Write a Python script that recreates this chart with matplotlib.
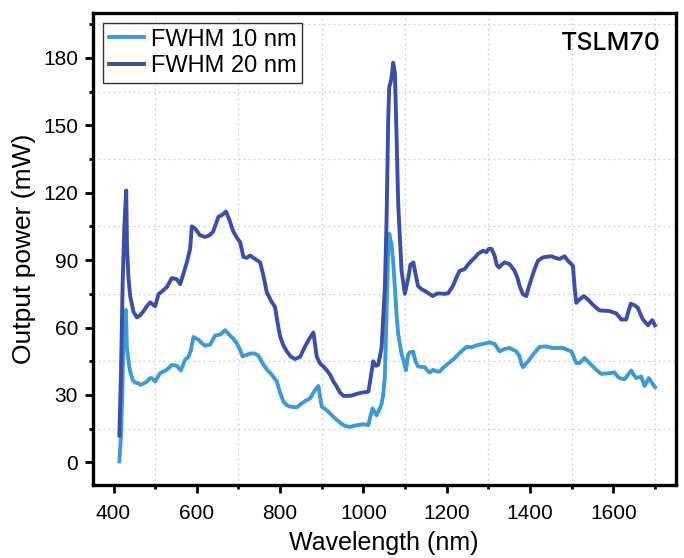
import matplotlib
matplotlib.use("Agg")
import matplotlib.pyplot as plt
from matplotlib.ticker import FixedLocator

wl20 = [414, 418, 422, 426, 430.5, 432.5, 436, 440, 448, 456, 464, 472, 480, 488, 496, 500, 508, 516, 528, 540,
        552, 560, 568, 576, 584, 588, 596, 608, 620, 630, 639, 652, 660, 670, 678, 687, 696, 704, 712, 720,
        728, 740, 752, 760, 768, 778, 788, 794, 800, 808, 816, 826, 836, 848, 860, 870, 880, 888, 896, 904,
        912, 920, 928, 936, 944, 952, 960, 968, 976, 984, 995, 1005, 1012, 1016, 1023.5, 1030, 1035.5, 1043.6,
        1051.5, 1055.6, 1059.5, 1062, 1065, 1068, 1071.5, 1075.6, 1079.6, 1083.5, 1091.6, 1099.5, 1107.5,
        1113, 1120, 1125, 1131, 1140, 1147.5, 1158, 1167, 1175, 1183, 1193, 1203, 1215, 1225, 1231, 1243,
        1251, 1259.5, 1267, 1275, 1287, 1295, 1301, 1307.5, 1315, 1320, 1325.6, 1332, 1339, 1351, 1363, 1370,
        1375, 1383, 1391, 1397, 1403, 1411, 1419, 1431, 1441, 1451, 1461, 1471, 1483, 1491, 1503, 1507, 1511,
        1519, 1529, 1539, 1549, 1559, 1567, 1579, 1591, 1607, 1613, 1619, 1631, 1636, 1642, 1650, 1659, 1665,
        1671, 1683, 1693.5, 1700]
p20 = [12, 40, 80, 105, 121, 95, 82, 74, 67, 64.5, 65.5, 67.3, 69.5, 71.2, 70, 69.5, 74.8, 76, 78, 82,
       81.5, 79.3, 84, 89, 95, 105, 104, 101, 100.3, 101, 102.6, 109.3, 110, 111.6, 108, 103, 100, 98, 91.4, 91,
       92, 90.5, 89, 83, 75.7, 72, 69, 62, 56, 52, 49.4, 47, 46, 47, 51.6, 55, 57.8, 47, 44, 42.7,
       41, 39, 36, 33.7, 31, 29.6, 29.6, 29.6, 30, 30.5, 31, 31.3, 31.5, 36, 45, 43, 43.4, 51,
       77.8, 107.6, 152, 167, 168.8, 172, 177.8, 173.3, 145, 115, 85.2, 75, 82,
       88, 89, 84, 78.5, 77, 76.3, 75, 74, 75, 75.2, 75, 75.2, 78.5, 83, 85.2, 86,
       88, 89.7, 91, 92.7, 94.2, 93.5, 95, 95, 92, 88, 86.7, 88, 89, 88.2, 85.2, 82,
       78.5, 74.8, 74, 78, 81.5, 86, 89.7, 91.2, 91.5, 91.7, 91, 90.5, 91.7, 89.7, 87.5, 78, 71,
       72.5, 74, 72.5, 70.5, 68.8, 67.6, 67.5, 67.3, 66.3, 65, 63.6, 63.6, 67, 70.6, 70, 68.8, 66,
       63.6, 61, 63.3, 61]

wl10 = [414, 418, 421, 424, 427, 429.7, 432, 436, 440, 446, 452, 460, 464, 472, 480, 488, 492, 500, 506, 512,
        520, 528, 540, 552, 561.6, 572, 580, 586, 592, 604, 612, 620, 632, 644, 656, 668, 680, 688, 696, 704,
        710, 728, 738, 748, 760, 770, 780, 792, 800, 808, 816, 824, 840, 852, 862, 872, 884, 892, 896, 900,
        908, 916, 924, 932, 942, 951.6, 960, 968, 978, 987.5, 999.5, 1006, 1012, 1016, 1022, 1031.6, 1037,
        1043.6, 1047.5, 1051.5, 1054, 1057, 1059.5, 1062, 1065, 1067.6, 1071.5, 1075.6, 1079.5, 1083.5,
        1091.6, 1099.5, 1102, 1107.5, 1111.5, 1119.5, 1125, 1131, 1140, 1147.5, 1153, 1159.5, 1167, 1175,
        1183, 1191, 1199.5, 1215, 1231, 1247.5, 1259.5, 1271.5, 1287, 1303, 1315, 1321, 1327, 1339, 1351,
        1367, 1375, 1379, 1383, 1395, 1407, 1423, 1439, 1455, 1479, 1499, 1505, 1511, 1519, 1531, 1543, 1559,
        1571, 1591, 1603, 1609, 1615, 1627, 1643, 1649, 1655, 1667, 1675, 1685.5, 1694, 1700]
p10 = [0.5, 12, 30, 55, 66, 67.8, 51.6, 45, 40.4, 36.7, 35.5, 35.2, 34.5, 35, 36, 37.5, 37.5, 36, 38, 39.7,
       40.5, 41.2, 43.4, 43, 40.9, 45.7, 46.9, 50, 55.8, 54.6, 53, 52, 52.4, 56.4, 56.9, 58.8, 56.4, 55, 53, 50,
       47.2, 48.4, 48.5, 47.5, 43.4, 41, 39, 36, 31, 27, 25.5, 24.8, 24.5, 26.3, 27.5, 28.5, 32.2, 34, 29, 24.8,
       23.8, 22.5, 21, 19.6, 18, 16.6, 16, 15.8, 16.3, 16.6, 17, 16.8, 16.6, 20, 24, 21, 23,
       26, 30, 38, 55, 78, 95, 101.7, 99, 97, 89, 77.8, 66, 57,
       48.3, 43, 41, 48, 49, 49.2, 45, 42.7, 42.5, 42.4, 41, 40, 41.2, 40.5,
       40.4, 42, 43.4, 45.7, 48.7, 51.4, 51.2, 52.1, 52.7, 53.4, 52.7, 51, 49.4, 50.5, 50.9,
       49.4, 47.2, 44, 42.4, 44.9, 47.9, 51.4, 51.6, 50.9, 50.9, 49.4, 47, 44.2, 44.2, 46.4, 44.2, 41.2,
       39.4, 39.7, 40, 38.5, 37.5, 37, 40.9, 39, 37.5, 38.2, 34, 37.5, 35, 33.5]

labels = ["FWHM 10 nm", "FWHM 20 nm"]
x_major = [400, 600, 800, 1000, 1200, 1400, 1600]
x_minor = [500, 700, 900, 1100, 1300, 1500, 1700]
y_major = [0, 30, 60, 90, 120, 150, 180]
y_minor = [15, 45, 75, 105, 135, 165, 195]

plt.rcParams['font.family'] = ['Liberation Sans', 'DejaVu Sans']

fig = plt.figure(figsize=(6.84, 5.58), dpi=100)
ax = fig.add_axes([0.1355, 0.131, 0.8525, 0.846])

ax.plot(wl10, p10, color='#3b9ad8', lw=2.8, label=labels[0], solid_joinstyle='round')
ax.plot(wl20, p20, color='#3a4fab', lw=2.8, label=labels[1], solid_joinstyle='round')

ax.set_xlim(350, 1750)
ax.set_ylim(-10, 200)
ax.xaxis.set_major_locator(FixedLocator(x_major))
ax.xaxis.set_minor_locator(FixedLocator(x_minor))
ax.yaxis.set_major_locator(FixedLocator(y_major))
ax.yaxis.set_minor_locator(FixedLocator(y_minor))
ax.grid(which='minor', linestyle=(0, (1.5, 2.5)), color='#cccccc', linewidth=0.9)
ax.grid(which='major', visible=False)

for s in ax.spines.values():
    s.set_linewidth(2.4)
ax.tick_params(which='major', direction='out', length=6, width=2.0, labelsize=15)
ax.tick_params(which='minor', direction='out', length=3, width=2.0)
ax.tick_params(axis='x', which='major', pad=7.5)
ax.tick_params(axis='y', which='major', pad=4.5)

ax.set_xlabel("Wavelength (nm)", fontsize=18, labelpad=6)
ax.set_ylabel("Output power (mW)", fontsize=19, labelpad=5)

leg = ax.legend(loc='upper left', fontsize=17, frameon=True, fancybox=False, edgecolor='black',
                handlelength=1.5, handletextpad=0.3, borderpad=0.22, labelspacing=0.2,
                borderaxespad=0.45)
leg.get_frame().set_linewidth(1.0)

ax.text(0.975, 0.935, "TSLM70", transform=ax.transAxes, ha='right', va='center',
        fontsize=18, fontweight='medium', family=['Inter', 'DejaVu Sans'])

fig.savefig("out.png", dpi=100)
